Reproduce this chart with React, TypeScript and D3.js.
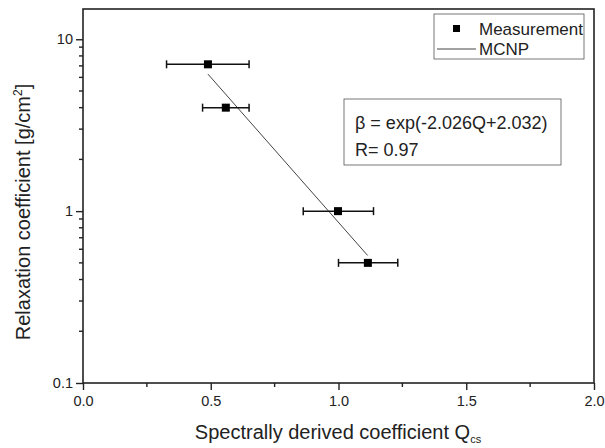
import React, { useEffect, useRef } from 'react';
import * as d3 from 'd3';

// measurement points: Q, beta, x error low / high
const qValues = [0.489, 0.559, 0.998, 1.115];
const betaValues = [7.15, 4.0, 1.0, 0.5];
const qErrLow = [0.327, 0.468, 0.862, 1.0];
const qErrHigh = [0.65, 0.65, 1.137, 1.232];

// MCNP line end points
const mcnpQ = [0.489, 1.114];
const mcnpBeta = [6.27, 0.552];

const xTicks = [0, 0.5, 1.0, 1.5, 2.0];
const yTicks = [0.1, 1, 10];

export default function App() {
  const svgRef = useRef<SVGSVGElement>(null);

  useEffect(() => {
    const svg = d3.select(svgRef.current);
    svg.selectAll('*').remove();

    const W = 605, H = 448;
    const m = { left: 83, top: 9, right: 11, bottom: 65 };
    const font = 'Liberation Sans, Arial, sans-serif';
    const axisColor = '#222';

    const x = d3.scaleLinear().domain([0, 2]).range([m.left, W - m.right]);
    const y = d3.scaleLog().domain([0.1, 15]).range([H - m.bottom, m.top]);

    svg.attr('width', W).attr('height', H);
    svg.append('rect').attr('width', W).attr('height', H).attr('fill', '#fff');

    // frame
    svg.append('rect')
      .attr('x', m.left).attr('y', m.top)
      .attr('width', W - m.left - m.right).attr('height', H - m.top - m.bottom)
      .attr('fill', 'none').attr('stroke', axisColor).attr('stroke-width', 1.6);

    // x axis
    const xAxis = svg.append('g')
      .attr('transform', `translate(0,${H - m.bottom})`)
      .call(d3.axisBottom(x).tickValues(xTicks).tickSize(7).tickPadding(6).tickFormat(d3.format('.1f')));
    xAxis.select('.domain').remove();
    xAxis.selectAll('line').attr('stroke', axisColor).attr('stroke-width', 1.4);
    xAxis.selectAll('text').attr('font-family', font).attr('font-size', 14.5).attr('fill', '#222');

    const xMinor = d3.range(0.25, 2, 0.5);
    svg.append('g').selectAll('line').data(xMinor).join('line')
      .attr('x1', d => x(d)).attr('x2', d => x(d))
      .attr('y1', H - m.bottom).attr('y2', H - m.bottom + 4)
      .attr('stroke', axisColor).attr('stroke-width', 1.4);

    // y axis
    const yAxis = svg.append('g')
      .attr('transform', `translate(${m.left},0)`)
      .call(d3.axisLeft(y).tickValues(yTicks).tickSize(7).tickPadding(3).tickFormat(d => String(d)));
    yAxis.select('.domain').remove();
    yAxis.selectAll('line').attr('stroke', axisColor).attr('stroke-width', 1.4);
    yAxis.selectAll('text').attr('font-family', font).attr('font-size', 14.5).attr('fill', '#222');

    const yMinor: number[] = [];
    [0.1, 1, 10].forEach(dec => {
      for (let k = 2; k <= 9; k++) {
        const v = dec * k;
        if (v <= 15) yMinor.push(v);
      }
    });
    svg.append('g').selectAll('line').data(yMinor).join('line')
      .attr('x1', m.left - 4).attr('x2', m.left)
      .attr('y1', d => y(d)).attr('y2', d => y(d))
      .attr('stroke', axisColor).attr('stroke-width', 1.4);

    // axis titles
    const xt = svg.append('text')
      .attr('x', 338).attr('y', 439)
      .attr('text-anchor', 'middle')
      .attr('font-family', font).attr('font-size', 20).attr('fill', '#222');
    xt.append('tspan').text('Spectrally derived coefficient Q');
    xt.append('tspan').attr('font-size', 11).attr('dy', 4).text('cs');

    const yt = svg.append('text')
      .attr('transform', `translate(30,212) rotate(-90)`)
      .attr('text-anchor', 'middle')
      .attr('font-family', font).attr('font-size', 20).attr('fill', '#222');
    yt.append('tspan').text('Relaxation coefficient [g/cm');
    yt.append('tspan').attr('font-size', 12).attr('dy', -8).text('2');
    yt.append('tspan').attr('dy', 8).text(']');

    // MCNP line
    const line = d3.line<number>()
      .x((_, i) => x(mcnpQ[i]))
      .y(d => y(d));
    svg.append('path')
      .datum(mcnpBeta)
      .attr('d', line)
      .attr('fill', 'none').attr('stroke', '#444').attr('stroke-width', 1);

    // error bars + markers
    const pts = qValues.map((q, i) => ({ q, b: betaValues[i], lo: qErrLow[i], hi: qErrHigh[i] }));
    const g = svg.append('g');
    pts.forEach(p => {
      const cy = y(p.b);
      g.append('line').attr('x1', x(p.lo)).attr('x2', x(p.hi)).attr('y1', cy).attr('y2', cy)
        .attr('stroke', '#111').attr('stroke-width', 1.5);
      [p.lo, p.hi].forEach(v => {
        g.append('line').attr('x1', x(v)).attr('x2', x(v)).attr('y1', cy - 4).attr('y2', cy + 4)
          .attr('stroke', '#111').attr('stroke-width', 1.5);
      });
      g.append('rect').attr('x', x(p.q) - 4).attr('y', cy - 4).attr('width', 8).attr('height', 8)
        .attr('fill', '#000');
    });

    // legend
    const lg = svg.append('g');
    lg.append('rect').attr('x', 434).attr('y', 14).attr('width', 150).attr('height', 45)
      .attr('fill', '#fff').attr('stroke', '#555').attr('stroke-width', 0.8);
    lg.append('rect').attr('x', 453).attr('y', 25).attr('width', 7).attr('height', 7).attr('fill', '#000');
    lg.append('text').attr('x', 479).attr('y', 35).attr('font-family', font).attr('font-size', 17)
      .attr('fill', '#222').text('Measurement');
    lg.append('line').attr('x1', 437).attr('x2', 476).attr('y1', 49).attr('y2', 49)
      .attr('stroke', '#444').attr('stroke-width', 1);
    lg.append('text').attr('x', 479).attr('y', 55).attr('font-family', font).attr('font-size', 17)
      .attr('fill', '#222').text('MCNP');

    // equation box
    const eq = svg.append('g');
    eq.append('rect').attr('x', 344).attr('y', 99).attr('width', 217).attr('height', 66)
      .attr('fill', '#fff').attr('stroke', '#555').attr('stroke-width', 0.8);
    eq.append('text').attr('x', 355).attr('y', 129).attr('font-family', font).attr('font-size', 18)
      .attr('fill', '#222').text('\u03B2 = exp(-2.026Q+2.032)');
    eq.append('text').attr('x', 355).attr('y', 156).attr('font-family', font).attr('font-size', 18)
      .attr('fill', '#222').text('R= 0.97');
  }, []);

  return (
    <div style={{ position: 'absolute', left: 0, top: 0 }}>
      <svg ref={svgRef} style={{ display: 'block' }} />
    </div>
  );
}
